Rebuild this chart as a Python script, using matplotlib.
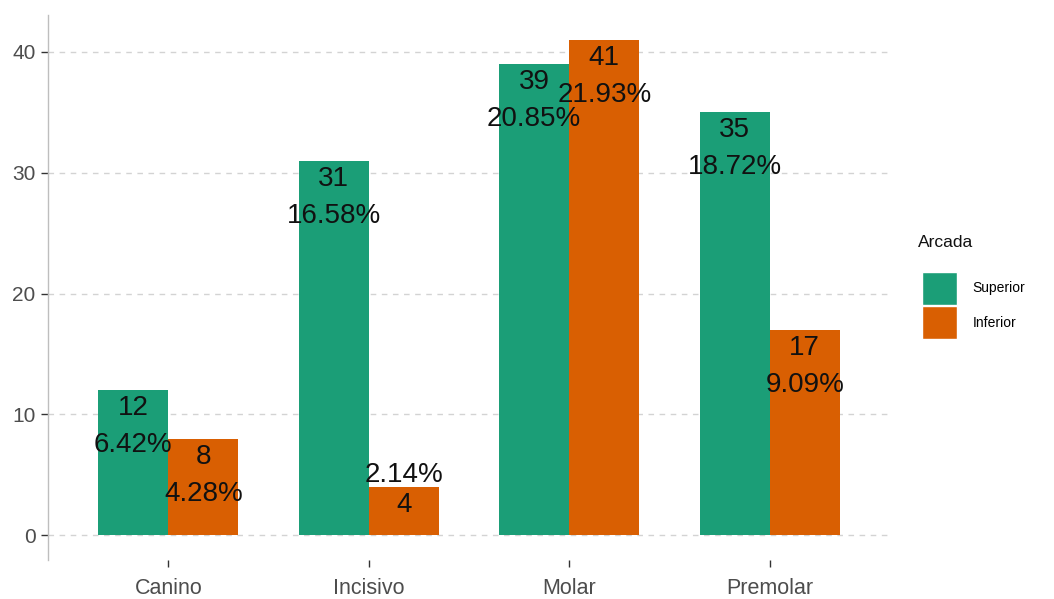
import matplotlib
matplotlib.use("Agg")
import matplotlib.pyplot as plt
from matplotlib.patches import Patch
import numpy as np

plt.rcParams['font.family'] = ['Liberation Sans', 'DejaVu Sans']

categories = ["Canino", "Incisivo", "Molar", "Premolar"]
series_names = ["Superior", "Inferior"]
superior = [12, 31, 39, 35]
inferior = [8, 4, 41, 17]
superior_pct = [6.42, 16.58, 20.85, 18.72]
inferior_pct = [4.28, 2.14, 21.93, 9.09]
colors = ["#1B9E77", "#D95F02"]
y_ticks = [0, 10, 20, 30, 40]

fig = plt.figure(figsize=(10.54, 5.99), dpi=100)
ax = fig.add_axes([48/1054, 39/599, (890-48)/1054, (560-15)/599])

x = np.arange(1, len(categories) + 1)
w = 0.35
grey_txt = "#4D4D4D"

for t in y_ticks:
    ax.axhline(t, color="#D3D3D3", lw=1.0, ls=(0, (4, 4)), zorder=0)

for si, (vals, pcts) in enumerate([(superior, superior_pct), (inferior, inferior_pct)]):
    xs = x + (si - 0.5) * w
    ax.bar(xs, vals, width=w, color=colors[si], zorder=2)
    for xi, v, p in zip(xs, vals, pcts):
        pct = f"{p:.2f}%"
        ax.annotate(str(v), (xi, v), xytext=(0, -13), textcoords="offset points",
                    ha="center", va="center", fontsize=20, color="#111111", zorder=3)
        off = 8.6 if v < 5 else -39.6
        ax.annotate(pct, (xi, v), xytext=(0, off), textcoords="offset points",
                    ha="center", va="center", fontsize=20, color="#111111", zorder=3)

ymax = max(max(superior), max(inferior))
ax.set_ylim(-0.05 * ymax, ymax * 1.05)
ax.set_xlim(0.4, len(categories) + 0.6)
ax.set_yticks(y_ticks)
ax.set_xticks(x)
ax.set_xticklabels(categories)
for s in ["top", "right", "bottom"]:
    ax.spines[s].set_visible(False)
ax.spines["left"].set_color("#BEBEBE")
ax.spines["left"].set_linewidth(1.0)
ax.tick_params(axis="y", length=5, width=1, color="#333333", labelsize=15, labelcolor=grey_txt, pad=4)
ax.tick_params(axis="x", length=5, width=1, color="#333333", labelsize=15.5, labelcolor=grey_txt, pad=8)

handles = [Patch(facecolor=c, edgecolor="white", linewidth=1.0) for c in colors]
leg = fig.legend(handles, series_names, loc="upper left",
                 bbox_to_anchor=(911/1054, 1 - 261/599), frameon=False,
                 fontsize=10, handlelength=2.5, handleheight=3.25,
                 labelspacing=0.1, handletextpad=1.15, borderpad=0.3)
fig.text(918/1054, 1 - 243/599, "Arcada", ha="left", va="center", fontsize=12.5, color="#111111")
fig.savefig("out.png", dpi=100)
